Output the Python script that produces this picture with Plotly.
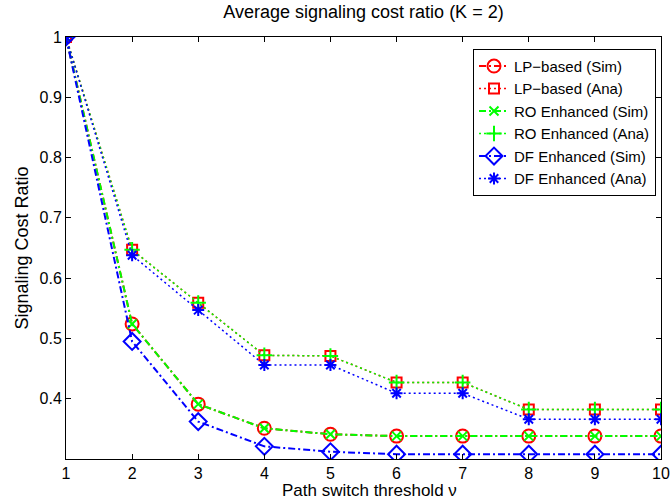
import plotly.graph_objects as go

x_vals = [1, 2, 3, 4, 5, 6, 7, 8, 9, 10]

lp_sim = [1.0, 0.524, 0.391, 0.351, 0.341, 0.338, 0.338, 0.338, 0.338, 0.338]
lp_ana = [1.0, 0.647, 0.559, 0.472, 0.471, 0.427, 0.427, 0.382, 0.382, 0.382]
ro_sim = [1.0, 0.524, 0.391, 0.351, 0.341, 0.338, 0.338, 0.338, 0.338, 0.338]
ro_ana = [1.0, 0.647, 0.559, 0.472, 0.471, 0.427, 0.427, 0.382, 0.382, 0.382]
df_sim = [1.0, 0.495, 0.362, 0.321, 0.312, 0.308, 0.308, 0.308, 0.308, 0.308]
df_ana = [1.0, 0.638, 0.547, 0.456, 0.456, 0.409, 0.409, 0.366, 0.366, 0.366]

y_tickvals = [0.4, 0.5, 0.6, 0.7, 0.8, 0.9, 1.0]
y_ticktext = ["0.4", "0.5", "0.6", "0.7", "0.8", "0.9", "1"]

RED = "#FF0000"
GREEN = "#00FF00"
BLUE = "#0000FF"
DASHDOT = "7px,3px,2px,3px"
DOT = "2px,3px"

series = [
    ("LP\u2212based (Sim)", lp_sim, RED, DASHDOT, 2, "circle-open", 13),
    ("LP\u2212based (Ana)", lp_ana, RED, DOT, 1.5, "square-open", 10),
    ("RO Enhanced (Sim)", ro_sim, GREEN, DASHDOT, 2, "x-thin-open", 9),
    ("RO Enhanced (Ana)", ro_ana, GREEN, DOT, 1.5, "cross-thin-open", 11),
    ("DF Enhanced (Sim)", df_sim, BLUE, DASHDOT, 2, "diamond-open", 13),
    ("DF Enhanced (Ana)", df_ana, BLUE, DOT, 1.5, "asterisk-open", 10),
]

fig = go.Figure()
for name, ys, col, dash, lw, sym, sz in series:
    fig.add_trace(go.Scatter(
        x=x_vals, y=ys, name=name, mode="lines+markers",
        line=dict(color=col, width=lw, dash=dash),
        marker=dict(symbol=sym, size=sz, color=col, line=dict(color=col, width=2)),
    ))

font = "Liberation Sans, Arial, Helvetica, sans-serif"
fig.update_layout(
    width=670, height=499,
    margin=dict(l=66, r=9, t=37, b=40, autoexpand=False),
    paper_bgcolor="white", plot_bgcolor="white",
    font=dict(family=font, size=16, color="black"),
    title=dict(text="Average signaling cost ratio (K = 2)", x=(66 + 661) / 2 / 670, xanchor="center",
               y=1 - 12 / 499, yanchor="middle", yref="container", font=dict(size=18)),
    showlegend=True,
    legend=dict(x=0.9916, xanchor="right", y=0.972, yanchor="top",
                bordercolor="black", borderwidth=1, bgcolor="white",
                font=dict(size=15), tracegroupgap=0, itemwidth=30),
    annotations=[dict(text="Path switch threshold \u03bd", xref="paper", yref="paper",
                      x=0.51, y=-32 / 422, xanchor="center", yanchor="middle",
                      showarrow=False, font=dict(size=17))],
)
fig.update_xaxes(
    range=[1, 10], tickvals=x_vals, ticks="inside", ticklen=5, tickcolor="black",
    showline=True, linecolor="black", linewidth=1, mirror="ticks", showgrid=False, zeroline=False,
    tickfont=dict(size=16), automargin=False,
)
fig.update_yaxes(
    range=[0.3, 1.0], tickvals=y_tickvals, ticktext=y_ticktext, ticks="inside", ticklen=5, tickcolor="black",
    showline=True, linecolor="black", linewidth=1, mirror="ticks", showgrid=False, zeroline=False,
    title=dict(text="Signaling Cost Ratio", standoff=6, font=dict(size=18)),
    tickfont=dict(size=16), automargin=False,
)

fig.write_html("out.html")
